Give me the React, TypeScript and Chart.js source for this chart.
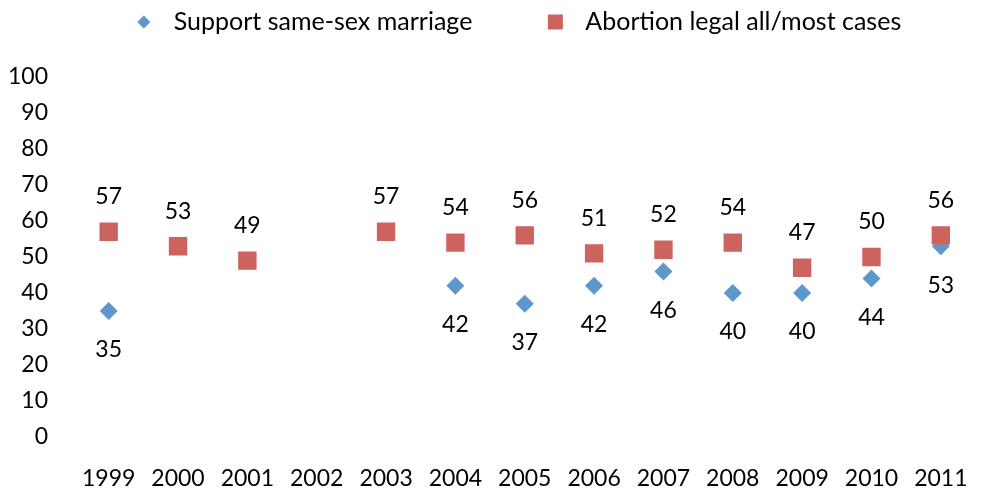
import React, { useEffect, useRef } from "react";
import { Chart, registerables } from "chart.js";

Chart.register(...registerables);

const years = [1999, 2000, 2001, 2002, 2003, 2004, 2005, 2006, 2007, 2008, 2009, 2010, 2011];
const yTicks = [0, 10, 20, 30, 40, 50, 60, 70, 80, 90, 100];
const marriageLabel = "Support same-sex marriage";
const abortionLabel = "Abortion legal all/most cases";
const marriageValues: (number | null)[] = [35, null, null, null, null, 42, 37, 42, 46, 40, 40, 44, 53];
const abortionValues: (number | null)[] = [57, 53, 49, null, 57, 54, 56, 51, 52, 54, 47, 50, 56];

const BLUE = "#5E97CC";
const RED = "#CD635E";
const FONT = "Lato";

function toPoints(values: (number | null)[]) {
  return years
    .map((yr, i) => ({ x: yr, y: values[i] }))
    .filter((p) => p.y !== null) as { x: number; y: number }[];
}

const dataLabelsPlugin = {
  id: "dataLabels",
  afterDatasetsDraw(chart: any) {
    const ctx = chart.ctx;
    ctx.save();
    ctx.font = `23px ${FONT}`;
    ctx.fillStyle = "#000";
    ctx.textAlign = "center";
    ctx.textBaseline = "middle";
    chart.data.datasets.forEach((ds: any, i: number) => {
      const meta = chart.getDatasetMeta(i);
      meta.data.forEach((pt: any, j: number) => {
        const v = ds.data[j].y;
        const dy = ds.labelAbove ? -35 : 39;
        ctx.fillText(String(v), pt.x, pt.y + dy);
      });
    });
    ctx.restore();
  },
};

const customLegendPlugin = {
  id: "customLegend",
  afterDraw(chart: any) {
    const ctx = chart.ctx;
    const order = [1, 0];
    ctx.save();
    ctx.font = `25px ${FONT}`;
    ctx.textBaseline = "middle";
    ctx.textAlign = "left";
    const widths = order.map((i) => ctx.measureText(chart.data.datasets[i].label).width);
    const markerToText = 30;
    const textToNext = 83;
    const total = 9 + markerToText + widths[0] + textToNext + markerToText + widths[1];
    const centerX = 518;
    const y = 22;
    let mx = centerX - total / 2 + 9;
    order.forEach((i, k) => {
      const ds = chart.data.datasets[i];
      ctx.fillStyle = ds.backgroundColor;
      if (ds.pointStyle === "rectRot") {
        const r = 6.5;
        ctx.beginPath();
        ctx.moveTo(mx, y - r);
        ctx.lineTo(mx + r, y);
        ctx.lineTo(mx, y + r);
        ctx.lineTo(mx - r, y);
        ctx.closePath();
        ctx.fill();
      } else {
        const s = 15;
        ctx.fillRect(mx - s / 2, y - s / 2, s, s);
      }
      ctx.fillStyle = "#000";
      ctx.fillText(ds.label, mx + markerToText, y);
      mx = mx + markerToText + widths[k] + textToNext;
    });
    ctx.restore();
  },
};

export default function App() {
  const canvasRef = useRef<HTMLCanvasElement | null>(null);

  useEffect(() => {
    if (!canvasRef.current) return;
    const chart = new Chart(canvasRef.current, {
      type: "scatter",
      data: {
        datasets: [
          {
            label: abortionLabel,
            data: toPoints(abortionValues),
            backgroundColor: RED,
            borderColor: RED,
            borderWidth: 0,
            pointStyle: "rect",
            pointRadius: 13,
            pointHoverRadius: 13,
            showLine: false,
            order: 0,
            labelAbove: true,
          } as any,
          {
            label: marriageLabel,
            data: toPoints(marriageValues),
            backgroundColor: BLUE,
            borderColor: BLUE,
            borderWidth: 0,
            pointStyle: "rectRot",
            pointRadius: 9,
            pointHoverRadius: 9,
            showLine: false,
            order: 1,
            labelAbove: false,
          } as any,
        ],
      },
      options: {
        animation: false,
        responsive: false,
        events: [],
        layout: { padding: { top: 77, left: 0, right: -5, bottom: 0 } },
        plugins: {
          legend: { display: false },
          tooltip: { enabled: false },
        },
        scales: {
          x: {
            type: "linear",
            min: years[0] - 0.5,
            max: years[years.length - 1] + 0.5,
            grid: { display: false, drawTicks: false },
            border: { display: false },
            afterBuildTicks: (scale: any) => {
              scale.ticks = years.map((v) => ({ value: v }));
            },
            afterFit: (scale: any) => {
              scale.height = 55;
            },
            ticks: {
              autoSkip: false,
              maxRotation: 0,
              padding: 28,
              color: "#000",
              font: { family: FONT, size: 23 },
              callback: (v: any) => String(v),
            },
          },
          y: {
            min: yTicks[0],
            max: yTicks[yTicks.length - 1],
            grid: { display: false, drawTicks: false },
            border: { display: false },
            afterBuildTicks: (scale: any) => {
              scale.ticks = yTicks.map((v) => ({ value: v }));
            },
            afterFit: (scale: any) => {
              scale.width = 74;
            },
            ticks: {
              padding: 26,
              color: "#000",
              font: { family: FONT, size: 23 },
              callback: (v: any) => String(v),
            },
          },
        },
      },
      plugins: [dataLabelsPlugin, customLegendPlugin],
    });
    return () => chart.destroy();
  }, []);

  return (
    <div style={{ position: "absolute", left: 0, top: 0, width: 996, height: 492, background: "#fff" }}>
      <canvas ref={canvasRef} width={996} height={492} style={{ display: "block" }} />
    </div>
  );
}
